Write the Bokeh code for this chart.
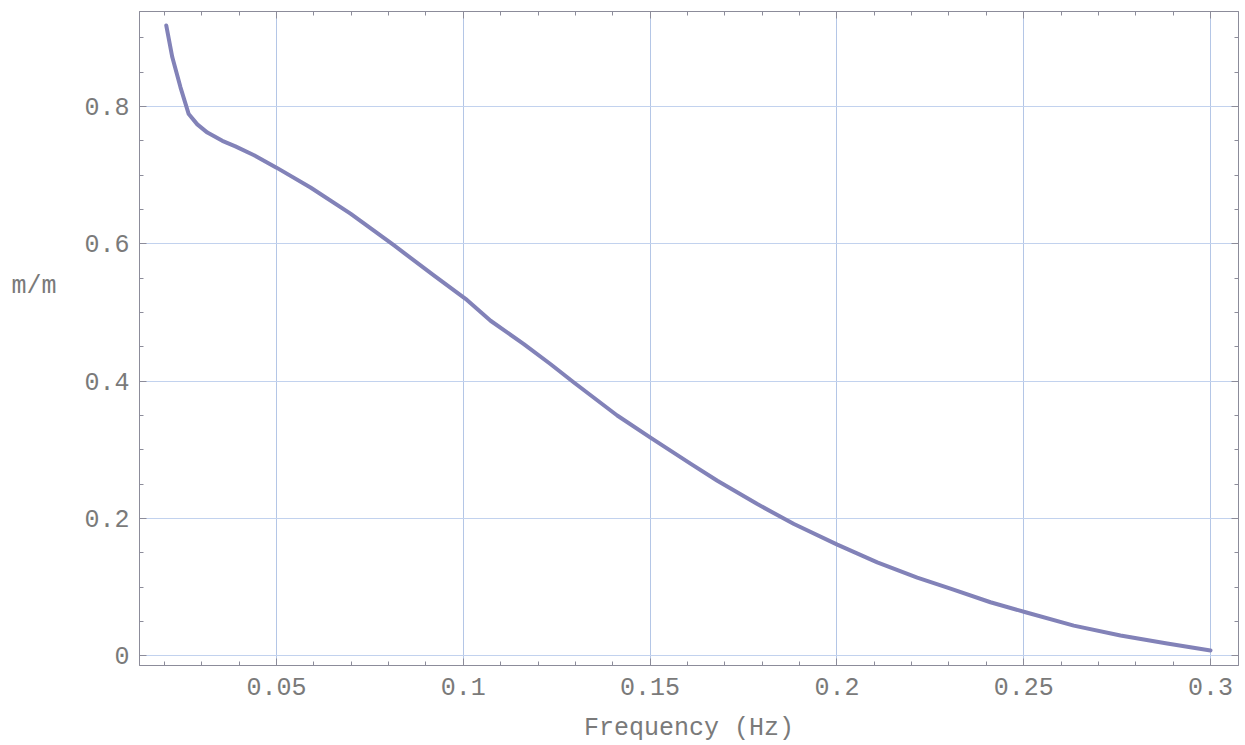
from bokeh.plotting import figure
from bokeh.models import FixedTicker, LinearAxis, Range1d
from bokeh.embed import file_html
from bokeh.resources import INLINE

# data
freq = [0.0205, 0.0221, 0.0243, 0.0265, 0.0288, 0.0315, 0.0355, 0.0390, 0.0440,
        0.0500, 0.0591, 0.0698, 0.0814, 0.0921, 0.1006, 0.1073, 0.1162, 0.1233,
        0.1296, 0.1412, 0.1503, 0.1608, 0.1680, 0.1787, 0.1885, 0.2001, 0.2108,
        0.2215, 0.2304, 0.2411, 0.2505, 0.2634, 0.2759, 0.2884, 0.3000]
ratio = [0.918, 0.872, 0.828, 0.789, 0.774, 0.762, 0.750, 0.742, 0.729,
         0.711, 0.682, 0.644, 0.598, 0.554, 0.520, 0.488, 0.454, 0.425,
         0.398, 0.350, 0.317, 0.280, 0.255, 0.221, 0.192, 0.162, 0.136,
         0.114, 0.098, 0.078, 0.0635, 0.044, 0.0296, 0.018, 0.0077]

x_ticks = [0.05, 0.1, 0.15, 0.2, 0.25, 0.3]
x_tick_labels = ["0.05", "0.1", "0.15", "0.2", "0.25", "0.3"]
x_minor = [round(0.01 * i, 2) for i in range(2, 31)]
y_ticks = [0, 0.2, 0.4, 0.6, 0.8]
y_tick_labels = ["0", "0.2", "0.4", "0.6", "0.8"]
y_minor = [round(0.05 * i, 2) for i in range(0, 19)]

x_label = "Frequency (Hz)"
y_label = "m/m"

FONT = "Liberation Mono"
TXT = "#7a7a7a"
FRAME = "#8c8c9a"
GRID = "#b4c6e6"

x0, x1 = 0.01333, 0.30749
y0, y1 = -0.0141, 0.9384

p = figure(width=1245, height=745, output_backend="svg", toolbar_location=None,
           x_range=Range1d(x0, x1), y_range=Range1d(y0, y1),
           min_border_left=139, min_border_right=7, min_border_top=11,
           min_border_bottom=70, background_fill_color="white",
           border_fill_color="white")

p.outline_line_color = FRAME
p.outline_line_width = 1

xt = FixedTicker(ticks=x_ticks, minor_ticks=x_minor)
yt = FixedTicker(ticks=y_ticks, minor_ticks=y_minor)

p.xaxis.ticker = xt
p.yaxis.ticker = yt
p.xaxis.major_label_overrides = {t: l for t, l in zip(x_ticks, x_tick_labels)}
p.yaxis.major_label_overrides = {t: l for t, l in zip(y_ticks, y_tick_labels)}

p.xgrid.ticker = xt
p.ygrid.ticker = yt
p.xgrid.grid_line_color = GRID
p.ygrid.grid_line_color = "#c2d2ee"

def style_axis(ax):
    ax.axis_line_color = FRAME
    ax.major_tick_line_color = FRAME
    ax.minor_tick_line_color = FRAME
    ax.major_tick_in = 7
    ax.major_tick_out = 0
    ax.minor_tick_in = 4
    ax.minor_tick_out = 0
    ax.major_label_text_font = FONT
    ax.major_label_text_font_size = "25px"
    ax.major_label_text_color = TXT
    ax.axis_label_text_font = FONT
    ax.axis_label_text_font_size = "25px"
    ax.axis_label_text_font_style = "normal"
    ax.axis_label_text_color = TXT

for ax in p.xaxis + p.yaxis:
    style_axis(ax)
p.xaxis.major_label_standoff = 12
p.yaxis.major_label_standoff = 10
p.xaxis.axis_label = x_label
p.xaxis.axis_label_standoff = 16

# y label: horizontal, lifted above the middle with trailing blank lines
p.yaxis.axis_label = y_label + "\n \n \n "
p.yaxis.axis_label_orientation = "horizontal"
p.yaxis.axis_label_standoff = 25

# frame ticks on top and right (no labels)
top = LinearAxis(ticker=xt)
right = LinearAxis(ticker=yt)
style_axis(top)
style_axis(right)
top.major_label_overrides = {t: "" for t in x_ticks}
right.major_label_overrides = {t: "" for t in y_ticks}
top.major_label_standoff = 0
right.major_label_standoff = 0
p.add_layout(top, "above")
p.add_layout(right, "right")

p.line(freq, ratio, line_color="#8282b8", line_width=4, line_join="round", line_cap="round")

open("out.html", "w").write(file_html(p, INLINE))
